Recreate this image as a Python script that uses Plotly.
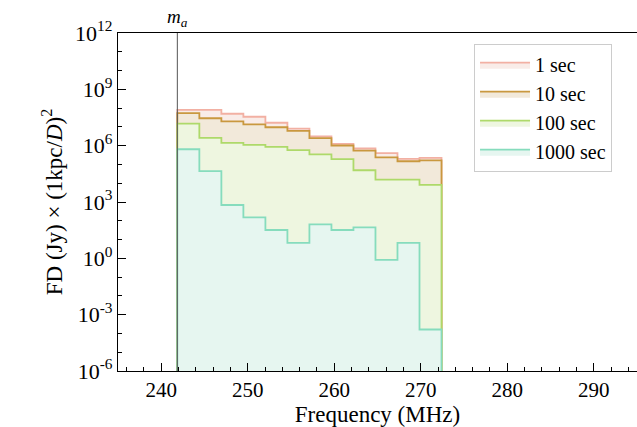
import plotly.graph_objects as go

# Data
bin_start = 241.86
bin_width = 2.545
n_bins = 12
labels = ["1 sec", "10 sec", "100 sec", "1000 sec"]
log_1s = [7.91, 7.91, 7.70, 7.54, 7.22, 6.91, 6.49, 6.10, 5.85, 5.60, 5.30, 5.35]
log_10s = [7.73, 7.46, 7.29, 7.13, 6.98, 6.79, 6.40, 6.01, 5.74, 5.38, 5.17, 5.22]
log_100s = [7.17, 6.42, 6.15, 6.045, 5.94, 5.76, 5.54, 5.28, 4.69, 4.19, 4.19, 3.91]
log_1000s = [5.81, 4.64, 2.84, 2.18, 1.51, 0.82, 1.81, 1.51, 1.65, -0.08, 0.82, -3.79]
m_a = 241.86
y_tick_exps = [-6, -3, 0, 3, 6, 9, 12]
x_ticks = [240, 250, 260, 270, 280, 290]

edge_colors = ["#f2b0a3", "#c9983f", "#aed96a", "#86dcbd"]
fill_colors = ["#f9ece8", "#f2e9da", "#eef6e0", "#e6f6f0"]
series = [log_1s, log_10s, log_100s, log_1000s]

edges = [bin_start + i * bin_width for i in range(n_bins + 1)]
base = 1e-8

FF = "Liberation Serif, serif"

fig = go.Figure()
for lab, vals, ec, fc in zip(labels, series, edge_colors, fill_colors):
    xs = [edges[0]]
    ys = [base]
    for i, lv in enumerate(vals):
        v = 10 ** lv
        xs += [edges[i], edges[i + 1]]
        ys += [v, v]
    xs.append(edges[-1])
    ys.append(base)
    fig.add_trace(go.Scatter(
        x=xs, y=ys, mode="lines", fill="toself", fillcolor=fc,
        line=dict(color=ec, width=1.8), name=lab, hoverinfo="skip"))

fig.add_shape(type="line", x0=m_a, x1=m_a, xref="x", y0=0, y1=1, yref="paper",
              line=dict(color="#555555", width=1))
fig.add_annotation(x=m_a, y=1.0, xref="x", yref="paper", yanchor="bottom",
                   text="<i>m</i><sub><i>a</i></sub>", showarrow=False,
                   font=dict(size=19, color="black", family=FF), yshift=1)

fig.update_layout(
    width=637, height=427,
    margin=dict(l=118, r=0, t=33, b=56),
    plot_bgcolor="white", paper_bgcolor="white",
    font=dict(family=FF, color="black"),
    showlegend=True,
    legend=dict(x=0.686, y=0.967, xanchor="left", yanchor="top",
                bgcolor="white", bordercolor="#cccccc", borderwidth=1,
                font=dict(size=20, family=FF), itemwidth=50),
    xaxis=dict(range=[235, 295], showgrid=False, zeroline=False,
               showline=True, linecolor="black", linewidth=1.2, mirror=True,
               ticks="inside", ticklen=8, tickwidth=1, tickcolor="black",
               tickvals=x_ticks, ticktext=[str(t) for t in x_ticks],
               tickfont=dict(size=21, family=FF),
               minor=dict(dtick=2, tick0=240, ticks="inside", ticklen=4, tickcolor="black"),
               title=dict(text="Frequency (MHz)", font=dict(size=23, family=FF), standoff=5)),
    yaxis=dict(type="log", range=[-6, 12], showgrid=False, zeroline=False,
               showline=True, linecolor="black", linewidth=1.2, mirror=False,
               ticks="inside", ticklen=8, tickwidth=1, tickcolor="black",
               tickvals=[10.0 ** e for e in y_tick_exps],
               ticktext=["10<sup>%d</sup>" % e for e in y_tick_exps],
               tickfont=dict(size=22, family=FF),
               minor=dict(dtick=1, ticks="inside", ticklen=4, tickcolor="black"),
               title=dict(text="FD (Jy) × (1kpc/<i>D</i>)<sup>2</sup>",
                          font=dict(size=23, family=FF), standoff=6)),
)

fig.write_html("out.html")
